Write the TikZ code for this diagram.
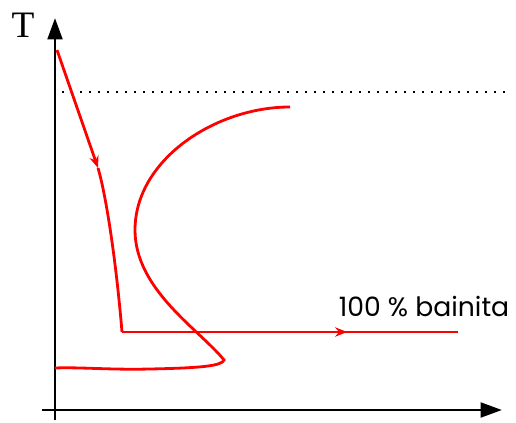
\documentclass[tikz,border=0pt]{standalone}
\usepackage{fontspec}
\newfontfamily\gothic{Poppins}
\newfontfamily\romana{Liberation Serif}
\usetikzlibrary{arrows.meta,decorations.markings}

\begin{document}
\begin{tikzpicture}[
            x=0.75pt, y=-0.75pt,
            axis/.style  ={-{Triangle[length=16pt,width=11pt]}, line width=2.2pt},
            curva/.style ={red, line width=2.1pt},
            punta/.style ={-{Stealth[length=9pt,width=7pt]}},
            flecha/.style={decoration={markings,
                           mark=at position #1 with {\arrow{Stealth[length=9pt,width=7pt]}}},
                           postaction=decorate}
        ]
            \useasboundingbox (0,0) rectangle (516,423);

            %-----------------  Ejes  --------------------
            \draw[axis] (55,420) -- (55,18);
            \draw[axis] (42,410) -- (502,410);
            \node[font=\romana\fontsize{28}{30}\selectfont] (T) at (23,25) {T};

            % Linea punteada superior
            \draw[line width=1.5pt, dash pattern=on 1.5pt off 5.25pt] (62,92) -- (510,92);

            %-----------------  Enfriamiento  --------------------
            \coordinate (inicio) at (57,50);
            \coordinate (codo)   at (98,168);
            \coordinate (esq)    at (122,332);
            \coordinate (fin)    at (458,332);
            \draw[curva, punta] (inicio) -- (codo);
            \draw[curva] (codo) .. controls (106,195) and (116,260) .. (esq);
            \draw[curva, flecha=0.67] (esq) -- (fin);

            %-----------------  Curva C  --------------------
            \draw[curva] (290,107) .. controls (215,107) and (135,160) .. (135,230)
                .. controls (135,290) and (200,330) .. (224,360)
                .. controls (222,366) and (200,368) .. (150,369)
                .. controls (110,370) and (80,367) .. (55,368);

            % Etiqueta
            \node[font=\gothic\fontsize{20}{22}\selectfont] (bainita) at (424,307) {100 \% bainita};
        \end{tikzpicture}
\end{document}
